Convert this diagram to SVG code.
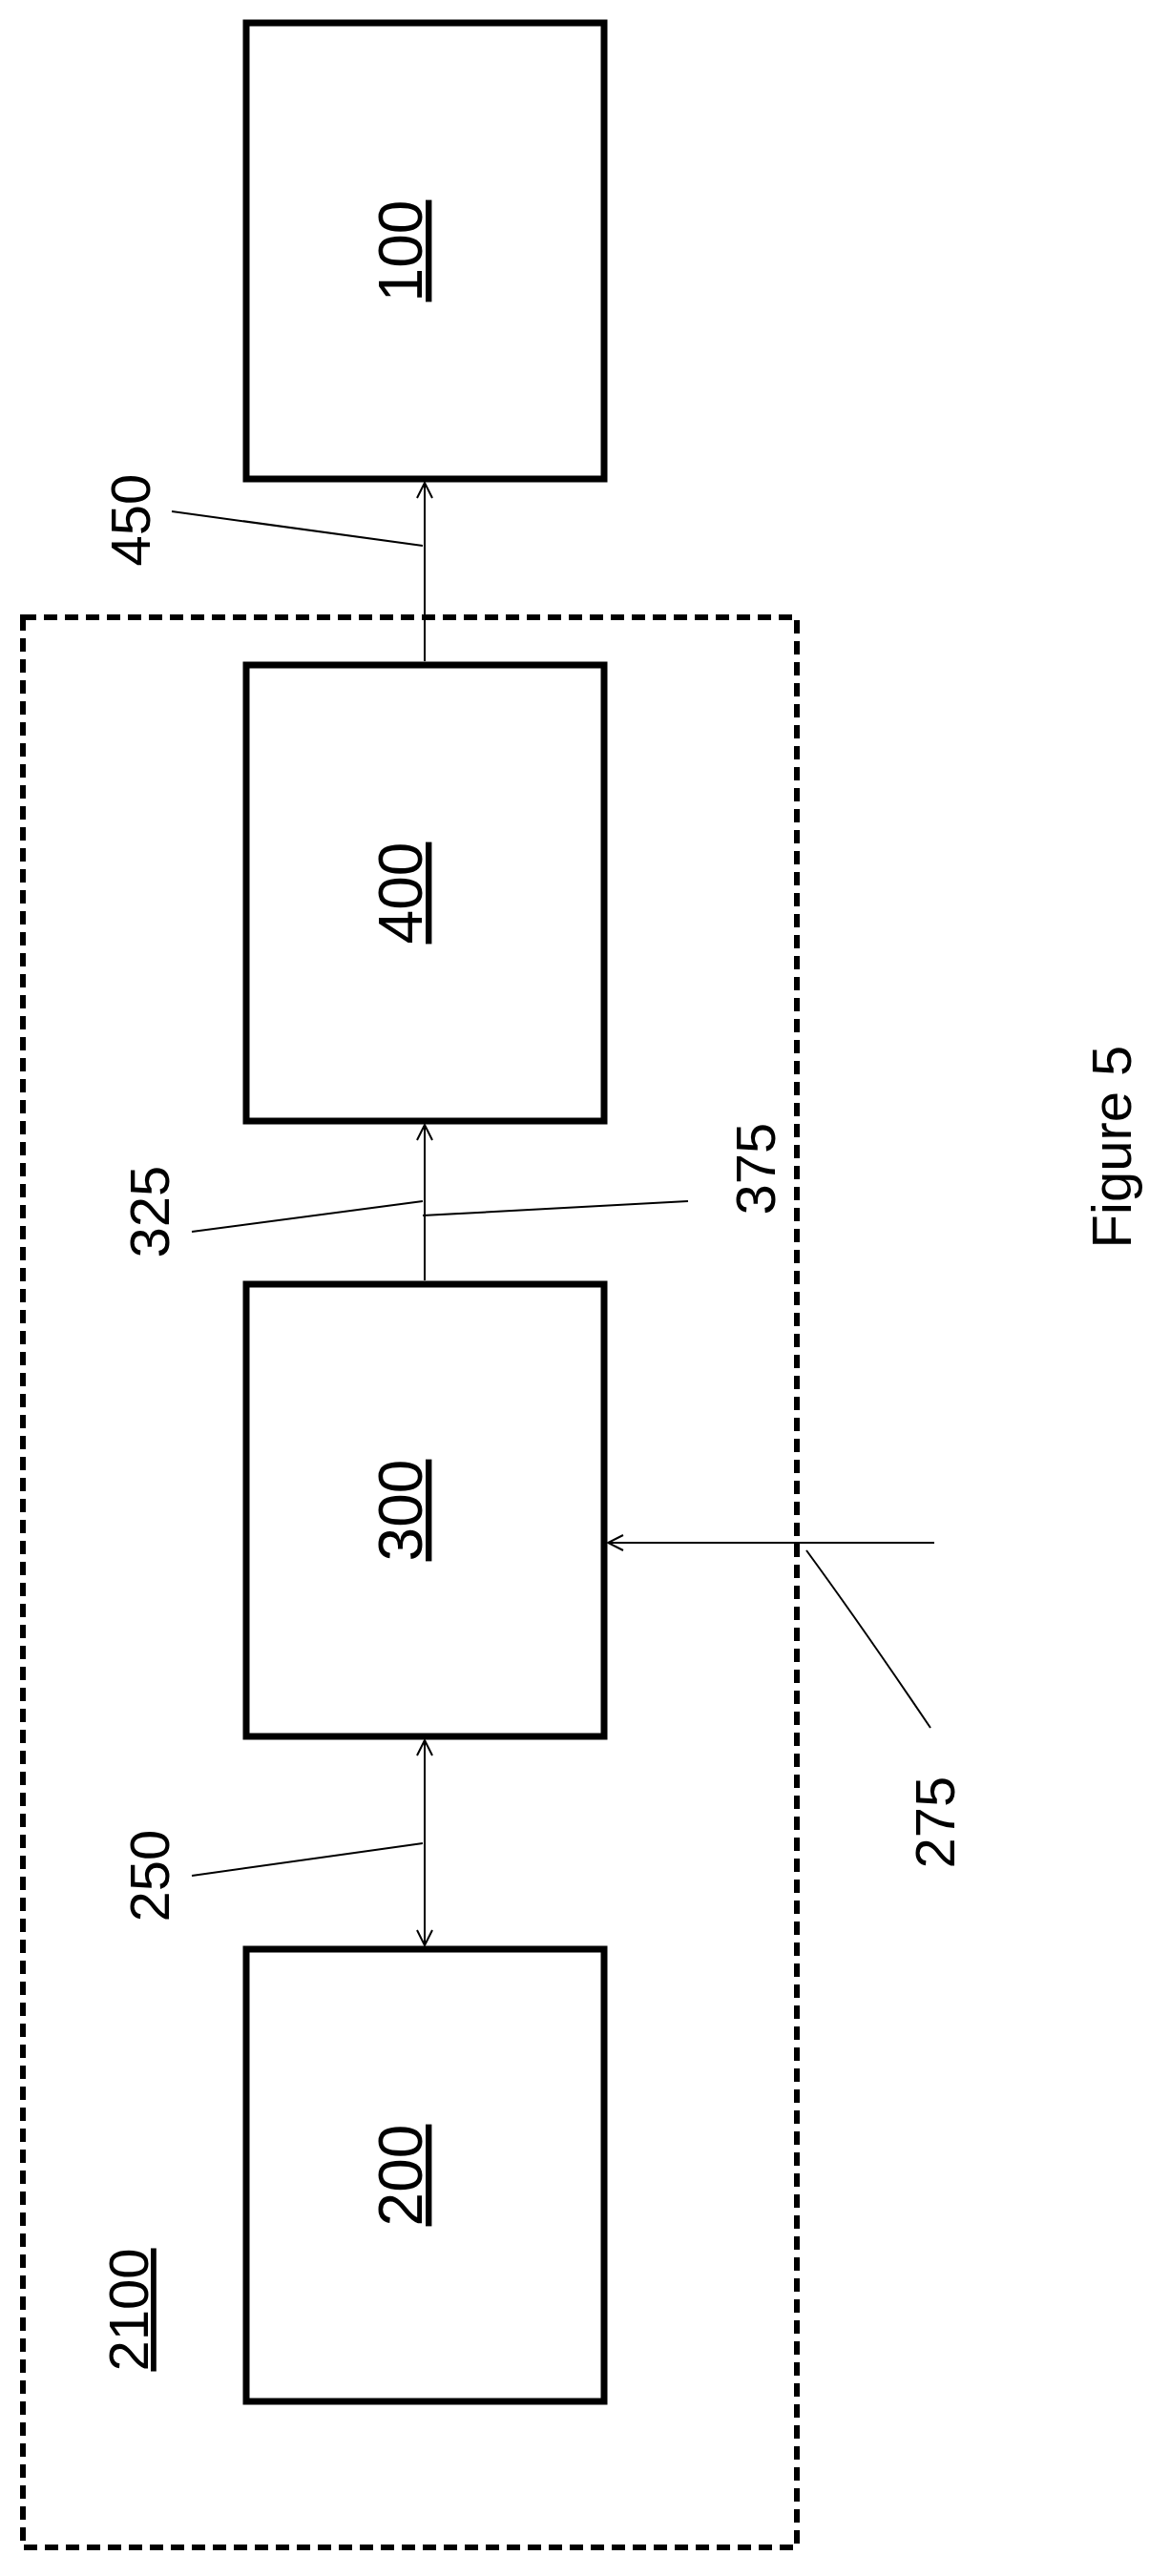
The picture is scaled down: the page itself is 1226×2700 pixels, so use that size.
<svg xmlns="http://www.w3.org/2000/svg" width="1226" height="2700" viewBox="0 0 1226 2700">
<style>
.box{fill:#fff;stroke:#000;stroke-width:7}
.ln{stroke:#000;stroke-width:2;fill:none}
text{font-family:"Liberation Sans",Arial,sans-serif;font-size:58px;fill:#000}
.u{text-decoration:underline}
.big{font-size:64px}
</style>
<defs>
<marker id="ah" markerWidth="20" markerHeight="20" refX="18" refY="10" orient="auto-start-reverse" markerUnits="userSpaceOnUse">
<path d="M2,2 L18,10 L2,18" fill="none" stroke="#000" stroke-width="2"/>
</marker>
</defs>
<rect id="b2100" x="24" y="647" width="811" height="2023" fill="none" stroke="#000" stroke-width="6" stroke-dasharray="14,8"/>
<g id="n100"><rect class="box" x="258" y="24" width="375" height="478"/><text class="u big" text-anchor="middle" transform="translate(442,263) rotate(-90)">100</text></g>
<g id="n400"><rect class="box" x="258" y="697" width="375" height="478"/><text class="u big" text-anchor="middle" transform="translate(442,936) rotate(-90)">400</text></g>
<g id="n300"><rect class="box" x="258" y="1346" width="375" height="474"/><text class="u big" text-anchor="middle" transform="translate(442,1583) rotate(-90)">300</text></g>
<g id="n200"><rect class="box" x="258" y="2043" width="375" height="474"/><text class="u big" text-anchor="middle" transform="translate(442,2280) rotate(-90)">200</text></g>
<g id="connectors">
<line class="ln" x1="445" y1="693" x2="445" y2="506" marker-end="url(#ah)"/>
<line class="ln" x1="445" y1="1342" x2="445" y2="1179" marker-end="url(#ah)"/>
<line class="ln" x1="445" y1="1824" x2="445" y2="2039" marker-start="url(#ah)" marker-end="url(#ah)"/>
<line class="ln" x1="979" y1="1617" x2="637" y2="1617" marker-end="url(#ah)"/>
<line class="ln" x1="180" y1="536" x2="443" y2="572"/>
<line class="ln" x1="201" y1="1291" x2="443" y2="1259"/>
<line class="ln" x1="443" y1="1274" x2="721" y2="1259"/>
<line class="ln" x1="201" y1="1966" x2="443" y2="1932"/>
<path class="ln" d="M845,1625 Q900,1700 975,1811"/>
</g>
<g id="labels">
<text text-anchor="middle" transform="translate(157,545) rotate(-90)">450</text>
<text text-anchor="middle" transform="translate(177,1270) rotate(-90)">325</text>
<text text-anchor="middle" transform="translate(812,1225) rotate(-90)">375</text>
<text text-anchor="middle" transform="translate(177,1966) rotate(-90)">250</text>
<text text-anchor="middle" transform="translate(1000,1910) rotate(-90)">275</text>
<text class="u" text-anchor="middle" transform="translate(155,2421) rotate(-90)">2100</text>
<text text-anchor="middle" transform="translate(1185,1202) rotate(-90)">Figure 5</text>
</g>
</svg>
